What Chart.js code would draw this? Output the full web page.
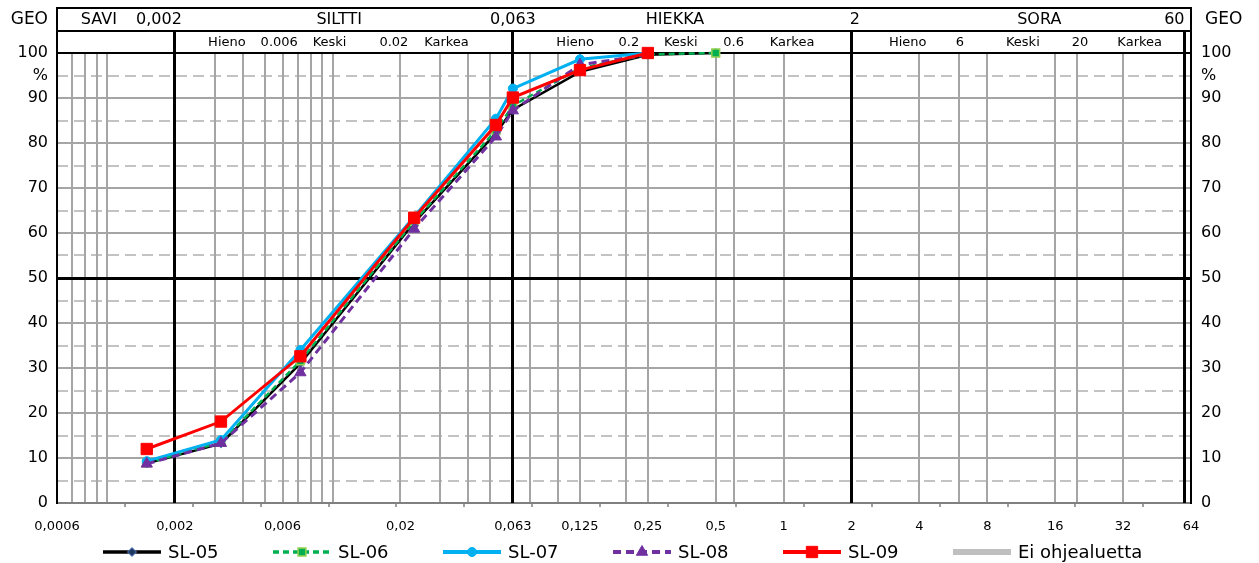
<!DOCTYPE html>
<html>
<head>
<meta charset="utf-8">
<title>Rakeisuuskäyrät</title>
<script src="https://cdn.jsdelivr.net/npm/chart.js@4.4.1/dist/chart.umd.min.js"></script>
<style>
  html, body { margin: 0; padding: 0; background: #fff; overflow: hidden; }
  #wrap { position: relative; width: 1259px; height: 563px; }
</style>
</head>
<body>
<div id="wrap"><canvas id="grading"></canvas></div>
<script>
// grain size (mm) of each sieve / hydrometer reading
const grainSizes = [0.0015, 0.0032, 0.0072, 0.023, 0.053, 0.063, 0.125, 0.25, 0.5]

// passing percentages per sample
const sl05 = [8.8, 13.2, 31.0, 62.3, 82.2, 87.4, 95.8, 99.6, 100]
const sl06 = [8.9, 13.5, 31.6, 62.6, 82.8, 88.3, 96.6, 99.7, 100]
const sl07 = [9.3, 14.0, 34.0, 63.6, 85.4, 92.1, 98.6, 100]
const sl08 = [8.7, 13.3, 29.0, 60.9, 81.4, 87.2, 97.4, 99.6]
const sl09 = [12.0, 18.1, 32.6, 63.4, 84.0, 90.1, 96.2, 100]

// x axis
const xMin = 0.0006
const xMax = 64
const xTickLabels = [0.0006, 0.002, 0.006, 0.02, 0.063, 0.125, 0.25, 0.5, 1, 2, 4, 8, 16, 32, 64]
const xGridLines = [0.0007, 0.0008, 0.0009, 0.001, 0.003, 0.004, 0.005, 0.006, 0.007, 0.008, 0.009, 0.01,
  0.02, 0.03, 0.04, 0.05, 0.075, 0.1, 0.125, 0.2, 0.25, 0.5, 0.6, 1, 4, 6, 8, 16, 20, 32]
const xTickMarks = [0.0012, 0.0024, 0.0048, 0.0096, 0.0192, 0.0384, 0.0768, 0.1536, 0.3072, 0.6144,
  1.2288, 2.4576, 4.9152, 9.8304, 19.6608, 39.3216]
const fractionLimits = [0.002, 0.063, 2, 60]

// y axis
const yTicks = [0, 5, 10, 15, 20, 25, 30, 35, 40, 45, 50, 55, 60, 65, 70, 75, 80, 85, 90, 95, 100]

// GEO classification header: [text, grain size it is centred on]
const headerMain = [['SAVI', 0.00092], ['0,002', 0.0017], ['SILTTI', 0.0107], ['0,063', 0.063],
  ['HIEKKA', 0.33], ['2', 2.07], ['SORA', 13.6], ['60', 54]]
const headerSub = [['Hieno', 0.0034], ['0.006', 0.0058], ['Keski', 0.0097], ['0.02', 0.0187], ['Karkea', 0.032],
  ['Hieno', 0.119], ['0.2', 0.206], ['Keski', 0.35], ['0.6', 0.6], ['Karkea', 1.09],
  ['Hieno', 3.55], ['6', 6.04], ['Keski', 11.5], ['20', 20.6], ['Karkea', 37.9]]

const labelSet = new Set(xTickLabels)
const gridSet = new Set(xGridLines)
const markSet = new Set(xTickMarks)
const xTicks = [...new Set([...xTickLabels, ...xGridLines, ...xTickMarks])].sort((a, b) => a - b)

const points = values => values.map((v, i) => ({ x: grainSizes[i], y: v }))

Chart.defaults.font.family = '"DejaVu Sans", Verdana, sans-serif'
Chart.defaults.color = '#000'

function stroke(ctx, x1, y1, x2, y2, w) {
  const snap = p => (w % 2 ? Math.round(p - 0.5) + 0.5 : Math.round(p))
  ctx.lineWidth = w
  ctx.beginPath()
  if (x1 === x2) {
    ctx.moveTo(snap(x1), y1)
    ctx.lineTo(snap(x2), y2)
  } else {
    ctx.moveTo(x1, snap(y1))
    ctx.lineTo(x2, snap(y2))
  }
  ctx.stroke()
}

// frame, fraction limits and the GEO header above the plot
const geoHeader = {
  id: 'geoHeader',
  beforeDatasetsDraw(chart) {
    const { ctx, chartArea: area } = chart
    const x = chart.scales.x
    const rowTop = area.top - 45
    const rowMid = area.top - 22
    const left = x.getPixelForValue(xMin)
    const right = x.getPixelForValue(xMax)

    ctx.save()
    ctx.strokeStyle = '#000'
    ctx.lineCap = 'square'
    ;[rowTop, rowMid, area.top].forEach(y => stroke(ctx, left, y, right, y, 2))
    stroke(ctx, left, rowTop, left, area.bottom, 2)
    stroke(ctx, right, rowTop, right, area.bottom, 2)
    ctx.lineCap = 'butt'
    fractionLimits.forEach(v => {
      const px = x.getPixelForValue(v)
      stroke(ctx, px, rowMid, px, area.bottom, 3)
    })

    ctx.fillStyle = '#000'
    ctx.textAlign = 'center'
    ctx.textBaseline = 'middle'
    ctx.font = '16px "DejaVu Sans"'
    headerMain.forEach(([t, v]) => ctx.fillText(t, x.getPixelForValue(v), rowTop + 12))
    ctx.font = '13px "DejaVu Sans"'
    headerSub.forEach(([t, v]) => ctx.fillText(t, x.getPixelForValue(v), rowMid + 11.5))

    ctx.font = '17px "DejaVu Sans"'
    ctx.textAlign = 'right'
    ctx.fillText('GEO', area.left - 9, rowTop + 12)
    ctx.textAlign = 'left'
    ctx.fillText('GEO', area.right + 14, rowTop + 12)
    ctx.restore()
  }
}

// legend row with line + marker samples
const seriesKey = {
  id: 'seriesKey',
  afterDraw(chart) {
    const { ctx } = chart
    const y = chart.height - 11
    chart.data.datasets.forEach((ds, i) => {
      const x0 = 103 + i * 170
      ctx.save()
      ctx.strokeStyle = ds.borderColor
      ctx.lineWidth = ds.borderWidth + 1
      ctx.setLineDash(ds.borderDash || [])
      ctx.beginPath()
      ctx.moveTo(x0, y)
      ctx.lineTo(x0 + 58, y)
      ctx.stroke()
      ctx.setLineDash([])
      if (ds.pointRadius) {
        ctx.fillStyle = ds.pointBackgroundColor
        ctx.strokeStyle = ds.pointBorderColor
        ctx.lineWidth = ds.pointBorderWidth
        Chart.helpers.drawPoint(ctx, {
          pointStyle: ds.pointStyle,
          radius: ds.pointRadius,
          borderWidth: ds.pointBorderWidth,
          rotation: 0
        }, x0 + 29, y)
      }
      ctx.fillStyle = '#000'
      ctx.font = '18px "DejaVu Sans"'
      ctx.textAlign = 'left'
      ctx.textBaseline = 'middle'
      ctx.fillText(ds.label, x0 + 65, y + 1)
      ctx.restore()
    })
  }
}

const yLabel = v => (v === 95 ? '%' : v % 10 === 0 ? String(v) : '')

new Chart(document.getElementById('grading'), {
  type: 'line',
  data: {
    datasets: [
      {
        label: 'SL-05', data: points(sl05), order: 5,
        borderColor: '#000000', borderWidth: 2.5,
        pointStyle: 'rectRot', pointRadius: 4.5, pointBackgroundColor: '#1f3864',
        pointBorderColor: '#5b86c5', pointBorderWidth: 1
      },
      {
        label: 'SL-06', data: points(sl06), order: 4,
        borderColor: '#00b050', borderWidth: 2.5, borderDash: [6, 4],
        pointStyle: 'rect', pointRadius: 5.5, pointBackgroundColor: '#00b050',
        pointBorderColor: '#92d050', pointBorderWidth: 1.5
      },
      {
        label: 'SL-07', data: points(sl07), order: 3,
        borderColor: '#00b0f0', borderWidth: 3,
        pointStyle: 'circle', pointRadius: 4.5, pointBackgroundColor: '#00b0f0',
        pointBorderColor: '#00b0f0', pointBorderWidth: 1
      },
      {
        label: 'SL-08', data: points(sl08), order: 2,
        borderColor: '#7030a0', borderWidth: 3, borderDash: [8, 5],
        pointStyle: 'triangle', pointRadius: 6.5, pointBackgroundColor: '#7030a0',
        pointBorderColor: '#7030a0', pointBorderWidth: 1
      },
      {
        label: 'SL-09', data: points(sl09), order: 1,
        borderColor: '#ff0000', borderWidth: 3,
        pointStyle: 'rect', pointRadius: 8, pointBackgroundColor: '#ff0000',
        pointBorderColor: '#ff0000', pointBorderWidth: 1
      },
      {
        label: 'Ei ohjealuetta', data: [], order: 6,
        borderColor: '#bfbfbf', borderWidth: 5, pointRadius: 0
      }
    ]
  },
  options: {
    responsive: true,
    maintainAspectRatio: false,
    animation: false,
    events: [],
    clip: false,
    layout: { padding: { top: 53, bottom: 0, left: 0, right: 0 } },
    elements: { line: { tension: 0 } },
    plugins: { legend: { display: false }, tooltip: { enabled: false } },
    scales: {
      x: {
        type: 'logarithmic',
        min: xMin,
        max: xMax,
        afterBuildTicks: axis => { axis.ticks = xTicks.map(v => ({ value: v })) },
        afterFit: axis => { axis.height = 60 },
        border: { display: false },
        grid: {
          z: -3,
          color: c => (gridSet.has(c.tick.value) ? '#a5a5a5' : 'rgba(0,0,0,0)'),
          lineWidth: 2,
          drawTicks: true,
          tickLength: 4,
          tickWidth: 1.5,
          tickColor: c => (markSet.has(c.tick.value) ? '#7f7f7f' : 'rgba(0,0,0,0)')
        },
        ticks: {
          autoSkip: false,
          maxRotation: 0,
          padding: 12,
          font: { size: 13 },
          callback: v => (labelSet.has(v) ? String(v).replace('.', ',') : '')
        }
      },
      y: {
        position: 'left',
        min: 0,
        max: 100,
        afterBuildTicks: axis => { axis.ticks = yTicks.map(v => ({ value: v })) },
        afterFit: axis => { axis.width = 57 },
        border: { display: false },
        grid: {
          z: -2,
          drawTicks: false,
          color: c => {
            const v = c.tick.value
            if (v === 50) return '#000000'
            if (v === 0) return '#808080'
            if (v === 100 || v % 10 !== 0) return 'rgba(0,0,0,0)'
            return '#a5a5a5'
          },
          lineWidth: c => (c.tick.value === 50 ? 3 : 2)
        },
        ticks: { autoSkip: false, padding: 9, font: { size: 16 }, callback: yLabel }
      },
      y2: {
        position: 'right',
        min: 0,
        max: 100,
        afterBuildTicks: axis => { axis.ticks = yTicks.map(v => ({ value: v })) },
        afterFit: axis => { axis.width = 68 },
        border: { display: false, dash: [11, 6] },
        grid: {
          z: -4,
          drawTicks: false,
          color: c => (c.tick.value % 10 === 5 ? '#c3c3c3' : 'rgba(0,0,0,0)'),
          lineWidth: 2
        },
        ticks: { autoSkip: false, padding: 10, font: { size: 16 }, callback: yLabel }
      }
    }
  },
  plugins: [geoHeader, seriesKey]
})
</script>
</body>
</html>
